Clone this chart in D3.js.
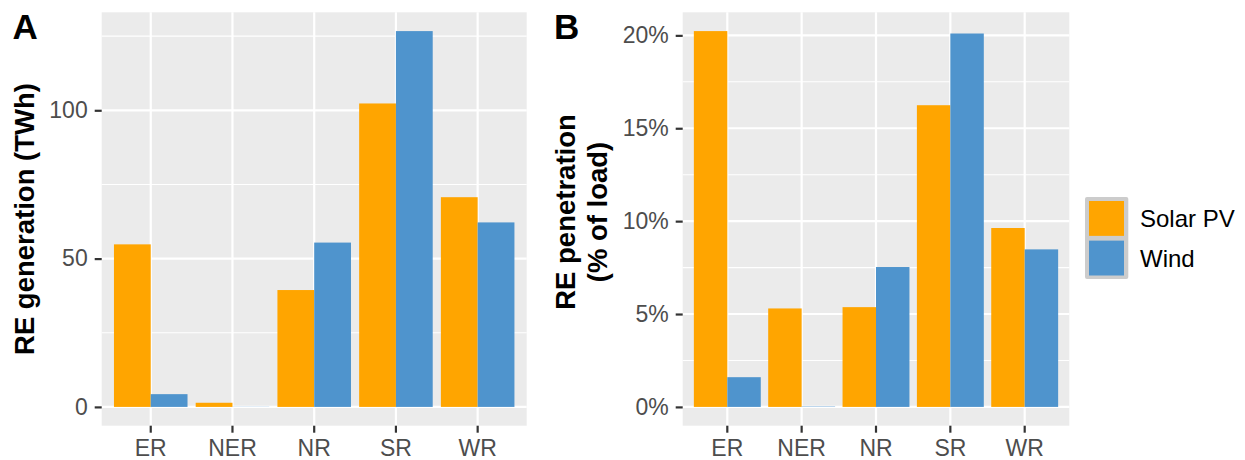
<!DOCTYPE html>
<html>
<head>
<meta charset="utf-8">
<script src="https://cdn.jsdelivr.net/npm/d3@7"></script>
<style>
  html, body { margin: 0; padding: 0; background: #ffffff; }
  svg { display: block; font-family: "Liberation Sans", Arial, sans-serif; }
</style>
</head>
<body>
<svg id="chart" width="1245" height="460"></svg>
<script>
// Regions and the two renewable sources
const regions = ["ER", "NER", "NR", "SR", "WR"];
const sources = ["Solar PV", "Wind"];

// Annual RE generation (TWh)
const generationSolar = [54.8, 1.4, 39.4, 102.3, 70.7];
const generationWind  = [4.3, 0.05, 55.4, 126.7, 62.2];

// RE penetration (% of load)
const penetrationSolar = [20.23, 5.30, 5.37, 16.24, 9.63];
const penetrationWind  = [1.60, 0.02, 7.53, 20.10, 8.48];

// Axis tick values
const generationTicks = [0, 50, 100];
const penetrationTicks = [0, 5, 10, 15, 20];

const sourceColors = ["#FFA500", "#4F94CD"];

const svg = d3.select("#chart");
const font = '"Liberation Sans", Arial, sans-serif';

function drawPanel(opts) {
  const { left, right, top, bottom, solar, wind, ticks, tickFormat } = opts;
  const g = svg.append("g");

  const all = solar.concat(wind);
  const maxV = d3.max(all);
  const y = d3.scaleLinear()
    .domain([-0.05 * maxV, 1.05 * maxV])
    .range([bottom, top]);

  const x = d3.scaleBand()
    .domain(regions)
    .range([left, right])
    .paddingInner(0.1)
    .paddingOuter(0.15);

  const xs = d3.scaleBand()
    .domain(sources)
    .range([0, x.bandwidth()])
    .padding(0);

  // panel background
  g.append("rect")
    .attr("x", left).attr("y", top)
    .attr("width", right - left).attr("height", bottom - top)
    .attr("fill", "#EBEBEB");

  // minor gridlines halfway between major ticks
  const step = ticks[1] - ticks[0];
  const [d0, d1] = y.domain();
  const minor = [ticks[0] - step / 2].concat(ticks.map(t => t + step / 2))
    .filter(v => v > d0 && v < d1);
  g.selectAll(".minor").data(minor).enter().append("line")
    .attr("x1", left).attr("x2", right)
    .attr("y1", d => y(d)).attr("y2", d => y(d))
    .attr("stroke", "#ffffff").attr("stroke-width", 1.1);

  // major gridlines
  g.selectAll(".majorY").data(ticks).enter().append("line")
    .attr("x1", left).attr("x2", right)
    .attr("y1", d => y(d)).attr("y2", d => y(d))
    .attr("stroke", "#ffffff").attr("stroke-width", 2.2);
  g.selectAll(".majorX").data(regions).enter().append("line")
    .attr("x1", d => x(d) + x.bandwidth() / 2).attr("x2", d => x(d) + x.bandwidth() / 2)
    .attr("y1", top).attr("y2", bottom)
    .attr("stroke", "#ffffff").attr("stroke-width", 2.2);

  // dodged bars
  const rows = regions.map((r, i) => ({ region: r, values: [solar[i], wind[i]] }));
  const grp = g.selectAll(".grp").data(rows).enter().append("g")
    .attr("transform", d => `translate(${x(d.region)},0)`);
  grp.selectAll("rect")
    .data(d => d.values.map((v, j) => ({ source: sources[j], value: v, j })))
    .enter().append("rect")
    .attr("x", d => xs(d.source))
    .attr("width", xs.bandwidth())
    .attr("y", d => y(Math.max(0, d.value)))
    .attr("height", d => Math.abs(y(d.value) - y(0)))
    .attr("fill", d => sourceColors[d.j]);

  // axes
  const yAxis = d3.axisLeft(y).tickValues(ticks).tickFormat(tickFormat)
    .tickSize(7).tickPadding(7);
  const ya = g.append("g").attr("transform", `translate(${left},0)`).call(yAxis);

  const xAxis = d3.axisBottom(x).tickSize(7).tickPadding(7.3);
  const xa = g.append("g").attr("transform", `translate(0,${bottom})`).call(xAxis);

  [ya, xa].forEach(a => {
    a.select(".domain").remove();
    a.selectAll(".tick line").attr("stroke", "#333333").attr("stroke-width", 2.2);
    a.selectAll(".tick text")
      .attr("fill", "#4D4D4D")
      .style("font-family", font)
      .style("font-size", "23px");
  });
  return g;
}

// Panel A: generation
drawPanel({
  left: 101.7, right: 526.7, top: 12.3, bottom: 425.7,
  solar: generationSolar, wind: generationWind,
  ticks: generationTicks, tickFormat: d => d3.format("d")(d)
});

// Panel B: penetration
drawPanel({
  left: 682.7, right: 1069.3, top: 12.3, bottom: 425.7,
  solar: penetrationSolar, wind: penetrationWind,
  ticks: penetrationTicks, tickFormat: d => d + "%"
});

// Panel tags
svg.append("text").attr("x", 12.5).attr("y", 38.5)
  .text("A").style("font-size", "35px").style("font-weight", "bold").attr("fill", "#000");
svg.append("text").attr("x", 554).attr("y", 38.5)
  .text("B").style("font-size", "35px").style("font-weight", "bold").attr("fill", "#000");

// Axis titles
svg.append("text")
  .attr("transform", "translate(33.5,219) rotate(-90)")
  .attr("text-anchor", "middle")
  .style("font-size", "27.5px").style("font-weight", "bold")
  .attr("fill", "#000")
  .text("RE generation (TWh)");

const titleB = svg.append("text")
  .attr("transform", "translate(575,212) rotate(-90)")
  .attr("text-anchor", "middle")
  .style("font-size", "27.5px").style("font-weight", "bold")
  .attr("fill", "#000");
titleB.append("tspan").attr("x", 0).attr("dy", 0).text("RE penetration");
titleB.append("tspan").attr("x", 0).attr("dy", 31.5).text("(% of load)");

// Legend
const legend = svg.append("g");
legend.append("rect")
  .attr("x", 1085).attr("y", 197).attr("width", 43.3).attr("height", 82)
  .attr("rx", 2).attr("fill", "#CCCCCC");
const keyY = d3.scaleBand().domain(sources).range([201, 275.5]).paddingInner(0.12);
sources.forEach((s, i) => {
  legend.append("rect")
    .attr("x", 1089).attr("y", keyY(s))
    .attr("width", 35).attr("height", keyY.bandwidth())
    .attr("fill", sourceColors[i]);
  legend.append("text")
    .attr("x", 1140).attr("y", keyY(s) + keyY.bandwidth() / 2 + 8.6)
    .style("font-size", "24px").attr("fill", "#000")
    .text(s);
});
</script>
</body>
</html>
